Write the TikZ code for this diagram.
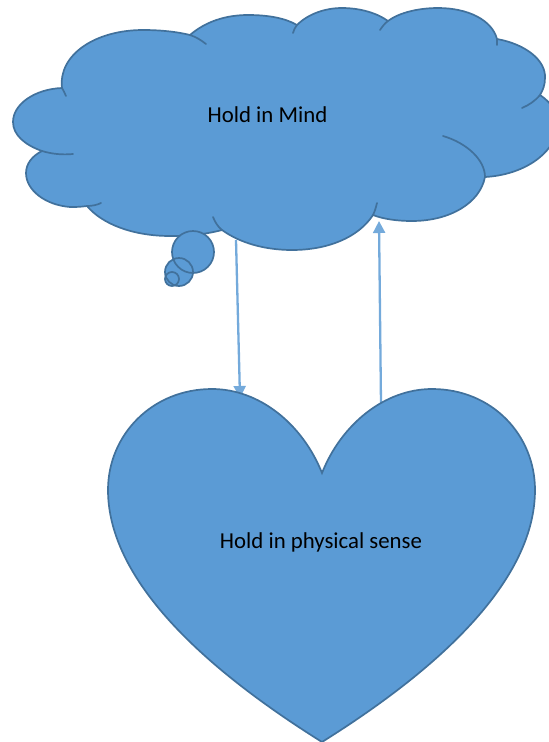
\documentclass[tikz,border=0pt]{standalone}
\usepackage{fontspec}
\setmainfont{Carlito}
\usetikzlibrary{arrows.meta}
\definecolor{shapefill}{HTML}{5B9BD5}
\definecolor{shapeline}{HTML}{41719C}
\begin{document}
\begin{tikzpicture}[x=1pt, y=-1pt, >={Triangle[length=12pt,width=12pt]},
    shapestyle/.style={fill=shapefill, draw=shapeline, line width=1.7pt},
    stubstyle/.style={draw=shapeline, line width=1.7pt, line cap=round},
    linkstyle/.style={->, draw=shapefill!85!white, line width=2.3pt},
    labelstyle/.style={font=\fontsize{22.8pt}{26pt}\selectfont, text=black, inner sep=0pt}]
  \useasboundingbox (0,0) rectangle (549,742);
  %--- Connector ends
  \coordinate (cloudout) at (236,240);
  \coordinate (heartin) at (240,398);
  \coordinate (heartout) at (381,404);
  \coordinate (cloudin) at (379,221);
  %--- Connectors, behind the shapes
  \draw[linkstyle] (cloudout) -- (heartin);
  \draw[linkstyle] (heartout) -- (cloudin);

  %--- Heart
  \draw[shapestyle, line join=miter]
    (322,473) .. controls (303,425) and (260,389) .. (212,389)
    .. controls (152,389) and (108,435) .. (108,490)
    .. controls (108,565) and (175,650) .. (322,742)
    .. controls (469,650) and (535,565) .. (535,490)
    .. controls (535,435) and (492,389) .. (432,389)
    .. controls (384,389) and (341,425) .. (322,473) -- cycle;

  %--- Cloud
  \draw[shapestyle, line join=round]
    (62,88) .. controls (58,55) and (95,30) .. (143,30)
    .. controls (162,30) and (178,32) .. (190,35)
    .. controls (205,22) and (225,15) .. (248,15)
    .. controls (268,15) and (285,18) .. (297,25)
    .. controls (308,14) and (325,8) .. (342,8)
    .. controls (360,8) and (377,13) .. (388,21)
    .. controls (400,12) and (420,8) .. (438,8)
    .. controls (468,8) and (492,20) .. (497,39)
    .. controls (525,44) and (546,60) .. (545,78)
    .. controls (545,85) and (543,90) .. (540,95)
    .. controls (552,103) and (560,115) .. (558,127)
    .. controls (554,155) and (522,175) .. (485,177)
    .. controls (480,203) and (450,221) .. (412,221)
    .. controls (397,221) and (383,219) .. (373,215)
    .. controls (358,238) and (327,250) .. (292,250)
    .. controls (265,250) and (240,243) .. (222,230)
    .. controls (207,234) and (190,236) .. (170,236)
    .. controls (133,236) and (102,224) .. (87,206)
    .. controls (80,207) and (75,207) .. (70,207)
    .. controls (45,205) and (26,190) .. (26,173)
    .. controls (26,164) and (32,156) .. (42,151)
    .. controls (25,145) and (13,135) .. (13,122)
    .. controls (13,104) and (35,89) .. (62,88) -- cycle;
  %--- Inner arcs of the cloud
  \draw[stubstyle] (62,88) .. controls (63,90) and (65,93) .. (66,96);
  \draw[stubstyle] (190,35) .. controls (196,37) and (201,40) .. (206,44);
  \draw[stubstyle] (297,25) .. controls (295,27) and (294,30) .. (293,33);
  \draw[stubstyle] (388,21) .. controls (385,23) and (382,27) .. (380,30);
  \draw[stubstyle] (497,39) -- (497,45);
  \draw[stubstyle] (540,95) .. controls (535,101) and (529,105) .. (522,108);
  \draw[stubstyle] (443,136) .. controls (467,143) and (485,160) .. (485,177);
  \draw[stubstyle] (373,215) .. controls (375,211) and (376,207) .. (377,203);
  \draw[stubstyle] (222,230) .. controls (218,227) and (215,222) .. (213,217);
  \draw[stubstyle] (87,206) .. controls (92,206) and (97,205) .. (101,203);
  \draw[stubstyle] (42,151) .. controls (52,154) and (62,155) .. (73,154);

  %--- Thought bubbles
  \fill[shapefill] (193,252) circle[radius=21] (179,272) circle[radius=14] (172,279) circle[radius=7];
  \draw[stubstyle] (193,252) circle[radius=21];
  \draw[stubstyle] (179,272) circle[radius=14];
  \draw[stubstyle] (172,279) circle[radius=7];

  %--- Labels
  \node[labelstyle] (mindlabel) at (267.5,115) {Hold in Mind};
  \node[labelstyle] (senselabel) at (321,542.5) {Hold in physical sense};
\end{tikzpicture}
\end{document}
